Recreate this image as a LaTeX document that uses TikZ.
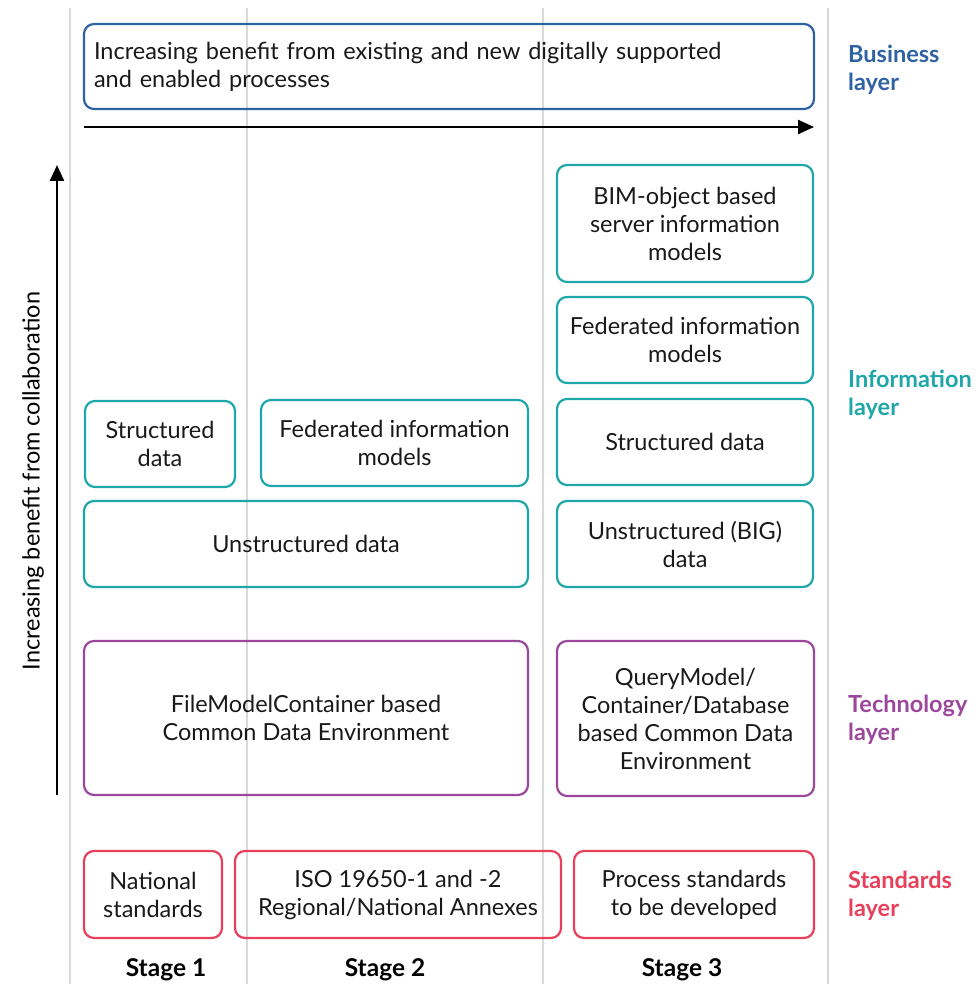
\documentclass[tikz,border=0pt]{standalone}
\usepackage{fontspec}
\setmainfont{Lato}
\usetikzlibrary{arrows.meta}
\definecolor{bizblue}{HTML}{2E62A2}
\definecolor{infoteal}{HTML}{1FA6A8}
\definecolor{techpurple}{HTML}{9A479C}
\definecolor{stdred}{HTML}{E83F5B}
\definecolor{gridgray}{HTML}{D9D9D9}
\tikzset{
  layerbox/.style={draw, rounded corners=10pt, line width=2.2pt, inner sep=0pt,
    align=center, font=\fontsize{23.5}{28}\selectfont, text=black!90},
  bizbox/.style={layerbox, draw=bizblue},
  infobox/.style={layerbox, draw=infoteal},
  techbox/.style={layerbox, draw=techpurple},
  stdbox/.style={layerbox, draw=stdred},
  layerlabel/.style={anchor=north west, align=left, inner sep=0pt,
    font=\bfseries\fontsize{23.5}{28}\selectfont},
  stagelabel/.style={font=\bfseries\fontsize{24.5}{28}\selectfont, inner sep=0pt},
  gridline/.style={draw=gridgray, line width=1.8pt},
  axis/.style={line width=2.4pt, -{Triangle[length=16pt,width=14pt]}},
}
\begin{document}
\begin{tikzpicture}[x=1pt,y=-1pt]
\useasboundingbox (0,0) rectangle (979,984);

% column separators
\coordinate (g1t) at (70,8);   \coordinate (g1b) at (70,984);
\coordinate (g2t) at (247,8);  \coordinate (g2b) at (247,984);
\coordinate (g3t) at (543,8);  \coordinate (g3b) at (543,984);
\coordinate (g4t) at (828,8);  \coordinate (g4b) at (828,984);
\draw[gridline] (g1t) -- (g1b);
\draw[gridline] (g2t) -- (g2b);
\draw[gridline] (g3t) -- (g3b);
\draw[gridline] (g4t) -- (g4b);

% business layer
\node[bizbox, minimum width=730pt, minimum height=85pt, text width=710pt, align=left]
  (biz) at (449,66.5) {Increasing benefit from existing and new digitally supported\\and enabled processes};

% axes
\coordinate (hs) at (84,127);  \coordinate (he) at (814,127);
\draw[axis] (hs) -- (he);
\coordinate (vs) at (57,795);  \coordinate (ve) at (57,165);
\draw[axis] (vs) -- (ve);
\node[rotate=90, inner sep=0pt, font=\fontsize{23.5}{28}\selectfont] (collab) at (33,481)
  {Increasing benefit from collaboration};

% information layer
\node[infobox, minimum width=256pt, minimum height=117pt] (bim) at (685,223.5)
  {BIM-object based\\server information\\models};
\node[infobox, minimum width=256pt, minimum height=86pt] (fed3) at (685,340)
  {Federated information\\models};
\node[infobox, minimum width=256pt, minimum height=86pt] (str3) at (685,442)
  {Structured data};
\node[infobox, minimum width=256pt, minimum height=86pt] (uns3) at (685,544)
  {Unstructured (BIG)\\data};
\node[infobox, minimum width=150pt, minimum height=86pt] (str1) at (160,444)
  {Structured\\data};
\node[infobox, minimum width=267pt, minimum height=86pt] (fed2) at (394.5,443)
  {Federated information\\models};
\node[infobox, minimum width=444pt, minimum height=86pt] (uns) at (306,544)
  {Unstructured data};

% technology layer
\node[techbox, minimum width=444pt, minimum height=154pt] (cde2) at (306,718)
  {FileModelContainer based\\Common Data Environment};
\node[techbox, minimum width=257pt, minimum height=155pt] (cde3) at (685.5,718.5)
  {QueryModel/\\Container/Database\\based Common Data\\Environment};

% standards layer
\node[stdbox, minimum width=138pt, minimum height=87pt] (nat) at (153,894.5)
  {National\\standards};
\node[stdbox, minimum width=326pt, minimum height=87pt] (iso) at (398,894.5)
  {ISO 19650-1 and -2\\Regional/National Annexes};
\node[stdbox, minimum width=240pt, minimum height=87pt] (proc) at (694,894.5)
  {Process standards\\to be developed};

% stages
\node[stagelabel] (s1) at (166,970) {Stage 1};
\node[stagelabel] (s2) at (385,970) {Stage 2};
\node[stagelabel] (s3) at (682,970) {Stage 3};

% layer names
\node[layerlabel, text=bizblue] (lbiz) at (848,45) {Business\\layer};
\node[layerlabel, text=infoteal] (linfo) at (848,370) {Information\\layer};
\node[layerlabel, text=techpurple] (ltech) at (848,695) {Technology\\layer};
\node[layerlabel, text=stdred] (lstd) at (848,871) {Standards\\layer};
\end{tikzpicture}
\end{document}
